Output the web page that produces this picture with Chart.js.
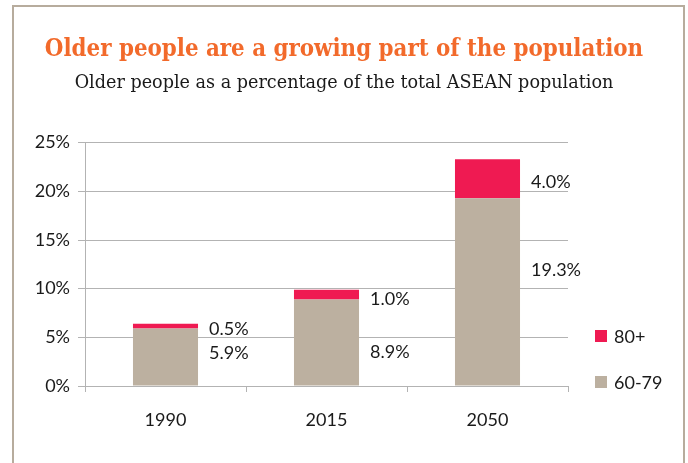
<!DOCTYPE html>
<html>
<head>
<meta charset="utf-8">
<script src="https://cdn.jsdelivr.net/npm/chart.js@4/dist/chart.umd.min.js"></script>
<style>
  html, body { margin: 0; padding: 0; background: #ffffff; }
  #wrap { position: relative; width: 688px; height: 463px; overflow: hidden; }
  #frame { position: absolute; left: 12px; top: 5px; width: 673px; height: 480px;
           border: 2px solid #b7ac9d; box-sizing: border-box; }
  #c { position: absolute; left: 0; top: 0; }
</style>
</head>
<body>
<div id="wrap">
  <div id="frame"></div>
  <canvas id="c" width="688" height="463"></canvas>
</div>
<script>
// ---- data ----
const years = ['1990', '2015', '2050'];
const age60to79 = [5.9, 8.9, 19.3];
const age80plus = [0.5, 1.0, 4.0];
const yTicks = [0, 5, 10, 15, 20, 25];
const seriesNames = ['60-79', '80+'];
const titleText = 'Older people are a growing part of the population';
const subtitleText = 'Older people as a percentage of the total ASEAN population';

const TAN = '#bcb0a0';
const RED = '#ef1a52';
const TEXT = '#1a1a1a';
const GRID = '#b3b3b3';
const TICKFONT = { family: 'Lato', size: 18 };

// value labels drawn beside each stacked segment
const valueLabels = {
  id: 'valueLabels',
  afterDatasetsDraw(chart, args, opts) {
    const ctx = chart.ctx;
    ctx.save();
    ctx.font = '18px Lato';
    ctx.fillStyle = TEXT;
    ctx.textAlign = 'left';
    ctx.textBaseline = 'middle';
    chart.data.datasets.forEach((ds, di) => {
      const meta = chart.getDatasetMeta(di);
      const offs = opts.dy[di];
      meta.data.forEach((bar, i) => {
        const p = bar.getProps(['x', 'y', 'base', 'width'], true);
        const x = p.x + p.width / 2 + opts.gap;
        const y = (p.y + p.base) / 2 + offs[i];
        ctx.fillText(ds.data[i].toFixed(1) + '%', x, y);
      });
    });
    ctx.restore();
  }
};

// legend at the right, 80+ above 60-79
const sideLegend = {
  id: 'sideLegend',
  afterDraw(chart, args, opts) {
    const ctx = chart.ctx;
    const area = chart.chartArea;
    ctx.save();
    ctx.font = '18px Lato';
    ctx.textAlign = 'left';
    ctx.textBaseline = 'middle';
    chart.data.datasets.forEach((ds, di) => {
      const cy = area.bottom - opts.bottomOffset - di * opts.spacing;
      const x = area.right + opts.left;
      ctx.fillStyle = ds.backgroundColor;
      ctx.fillRect(x, cy - opts.box / 2, opts.box, opts.box);
      ctx.fillStyle = TEXT;
      ctx.fillText(ds.label, x + opts.box + 7, cy + 1);
    });
    ctx.restore();
  }
};

new Chart(document.getElementById('c'), {
  type: 'bar',
  data: {
    labels: years,
    datasets: [
      { label: seriesNames[0], data: age60to79, backgroundColor: TAN,
        categoryPercentage: 1, barPercentage: 0.404 },
      { label: seriesNames[1], data: age80plus, backgroundColor: RED,
        categoryPercentage: 1, barPercentage: 0.404 }
    ]
  },
  options: {
    responsive: false,
    animation: false,
    devicePixelRatio: 1,
    layout: { padding: { left: 0, right: 0, top: 0, bottom: 27 } },
    plugins: {
      legend: { display: false },
      tooltip: { enabled: false },
      title: {
        display: true, text: titleText, color: '#f26a2b',
        font: { family: 'DejaVu Serif Condensed', size: 23.8, weight: 'bold', lineHeight: 1.2 },
        padding: { top: 36, bottom: 0 }
      },
      subtitle: {
        display: true, text: subtitleText, color: TEXT,
        font: { family: 'DejaVu Serif', size: 17.6, weight: 'normal', lineHeight: 1.2 },
        padding: { top: 8, bottom: 49 }
      },
      valueLabels: { gap: 11, dy: [[-4, 10, -22], [3, 5, 3]] },
      sideLegend: { left: 27, box: 12, spacing: 46, bottomOffset: 4 }
    },
    scales: {
      x: {
        stacked: true,
        grid: { drawOnChartArea: false, drawTicks: true, tickLength: 6, color: GRID, offset: true },
        border: { display: true, color: GRID, width: 1 },
        ticks: { color: TEXT, font: TICKFONT, padding: 17 },
        afterFit(s) { s.height = 50; }
      },
      y: {
        stacked: true,
        min: 0, max: 25,
        afterBuildTicks(s) { s.ticks = yTicks.map(v => ({ value: v })); },
        grid: { color: GRID, tickLength: 7, lineWidth: 1 },
        border: { display: true, color: GRID, width: 1 },
        ticks: { color: TEXT, font: TICKFONT, padding: 8, callback: v => v + '%' },
        afterFit(s) { s.width = 85; }
      },
      legendSpace: {
        type: 'linear', position: 'right', display: true,
        grid: { display: false }, border: { display: false },
        ticks: { display: false },
        afterFit(s) { s.width = 120; }
      }
    }
  },
  plugins: [valueLabels, sideLegend]
});
</script>
</body>
</html>
